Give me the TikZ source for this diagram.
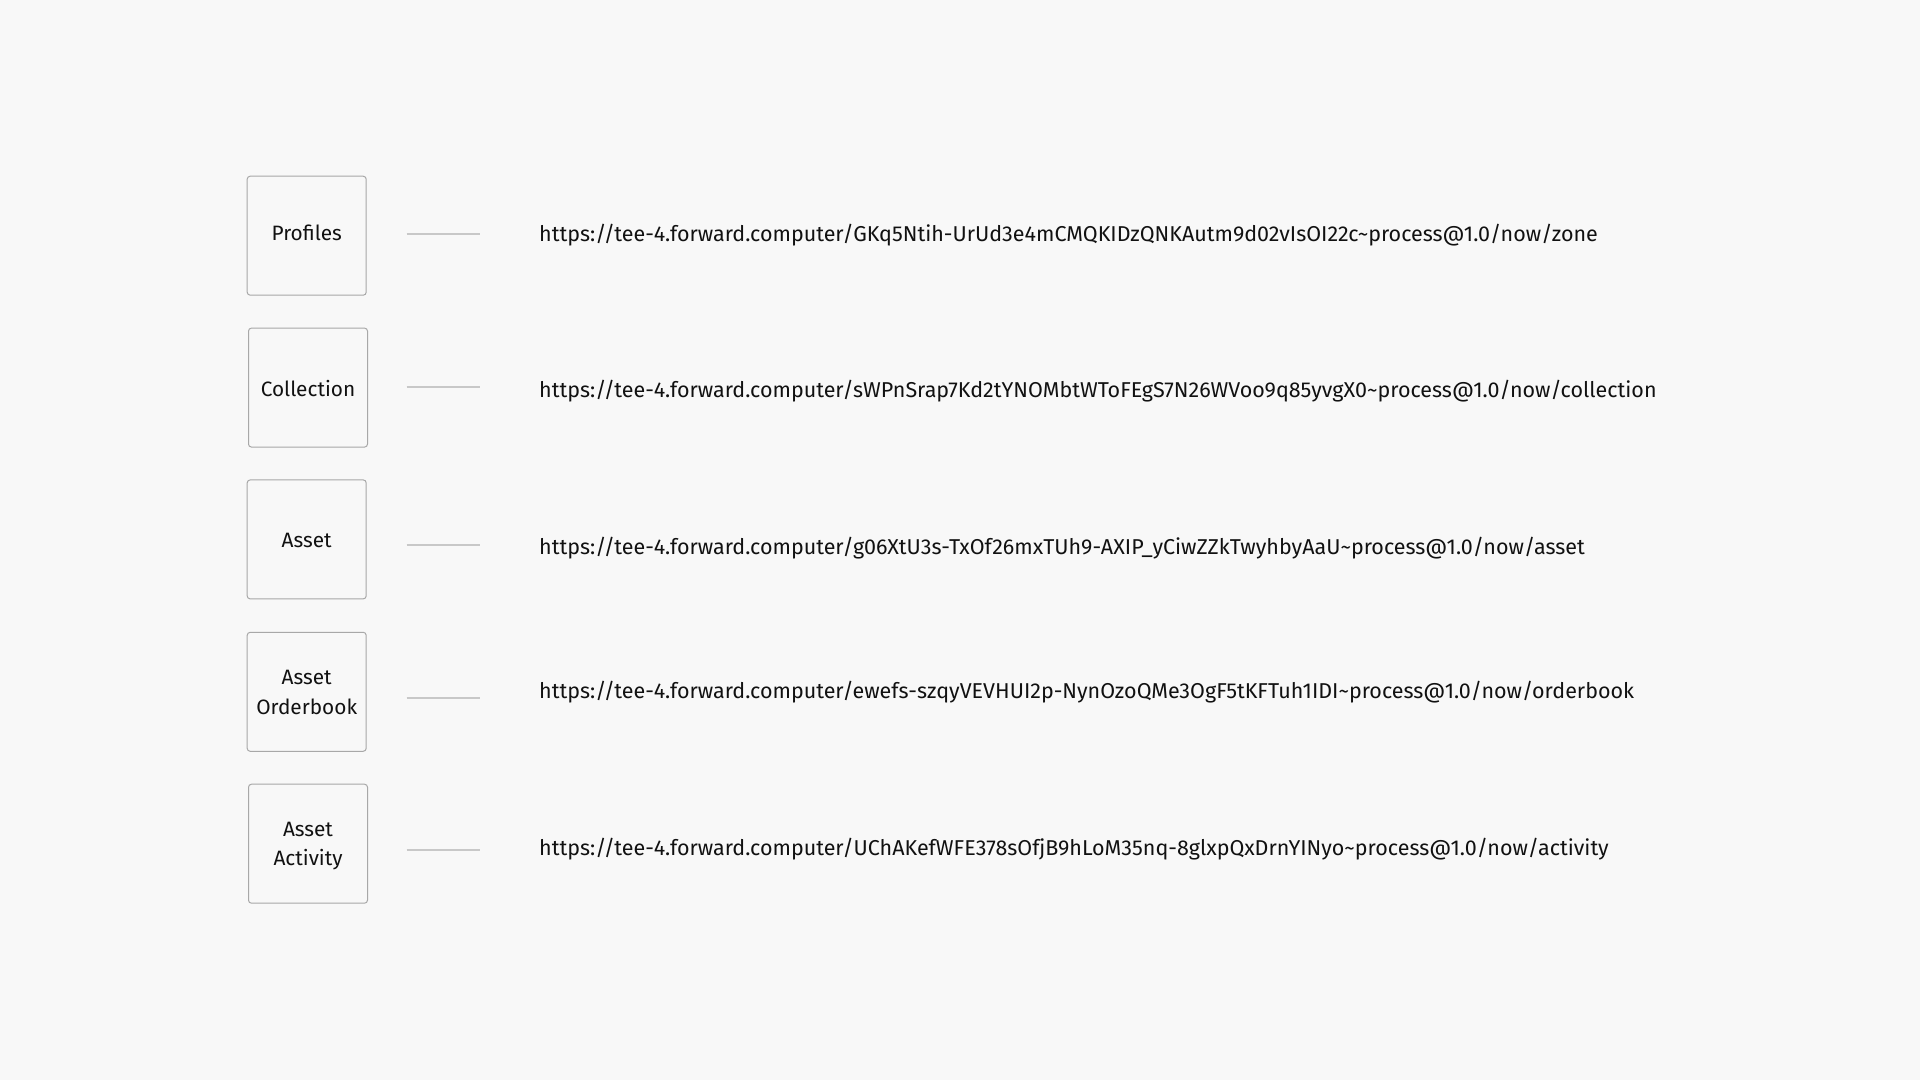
\documentclass[tikz,border=0pt]{standalone}
\usepackage{fontspec}
\setmainfont{Fira Sans}
\definecolor{bgc}{HTML}{F8F8F8}
\definecolor{boxc}{HTML}{A8A8A8}
\definecolor{linec}{HTML}{C8C8C8}
\definecolor{txtc}{HTML}{111111}
\begin{document}
\begin{tikzpicture}[x=0.5pt,y=-0.5pt,
  catbox/.style={draw=boxc, line width=0.5pt, rounded corners=1.5pt, fill=bgc,
    minimum width=59.5pt, minimum height=59.5pt, inner sep=0pt, align=center,
    text=txtc, font=\fontsize{10.4}{14.6}\selectfont},
  boxlabel/.style={inner sep=0pt, align=center, text=txtc, font=\fontsize{10.4}{14.6}\selectfont},
  urltext/.style={anchor=west, inner sep=0pt, text=txtc, font=\fontsize{10.75}{12}\selectfont},
  link/.style={draw=linec, line width=0.75pt}]
\fill[bgc] (0,0) rectangle (1920,1080);
\useasboundingbox (0,0) rectangle (1920,1080);

\node[catbox] (b1) at (306.7,235.7) {};
\node[catbox] (b2) at (308.0,387.6) {};
\node[catbox] (b3) at (306.7,539.4) {};
\node[catbox] (b4) at (306.7,691.8) {};
\node[catbox] (b5) at (308.0,843.7) {};
\node[boxlabel] (t1) at ([yshift=1.2pt]b1.center) {Profiles};
\node[boxlabel] (t2) at ([yshift=-0.5pt]b2.center) {Collection};
\node[boxlabel] (t3) at ([yshift=-0.5pt]b3.center) {Asset};
\node[boxlabel] (t4) at ([yshift=-0.3pt]b4.center) {Asset\\Orderbook};
\node[boxlabel] (t5) at ([yshift=-1.2pt]b5.center) {Asset\\Activity};

\node[urltext] (u1) at (538.8,234.7) {https://tee-4.forward.computer/GKq5Ntih-UrUd3e4mCMQKIDzQNKAutm9d02vIsOI22c\textasciitilde process@1.0/now/zone};
\node[urltext] (u2) at (538.8,391.4) {https://tee-4.forward.computer/sWPnSrap7Kd2tYNOMbtWToFEgS7N26WVoo9q85yvgX0\textasciitilde process@1.0/now/collection};
\node[urltext] (u3) at (538.8,548.0) {https://tee-4.forward.computer/g06XtU3s-TxOf26mxTUh9-AXIP\_yCiwZZkTwyhbyAaU\textasciitilde process@1.0/now/asset};
\node[urltext] (u4) at (538.8,692.6) {https://tee-4.forward.computer/ewefs-szqyVEVHUI2p-NynOzoQMe3OgF5tKFTuh1IDI\textasciitilde process@1.0/now/orderbook};
\node[urltext] (u5) at (538.8,849.4) {https://tee-4.forward.computer/UChAKefWFE378sOfjB9hLoM35nq-8glxpQxDrnYINyo\textasciitilde process@1.0/now/activity};

\coordinate (l1a) at (406.5,233.9); \coordinate (l1b) at (480,233.9);
\coordinate (l2a) at (406.5,387.0); \coordinate (l2b) at (480,387.0);
\coordinate (l3a) at (406.5,545.0); \coordinate (l3b) at (480,545.0);
\coordinate (l4a) at (406.5,698.0); \coordinate (l4b) at (480,698.0);
\coordinate (l5a) at (406.5,850.0); \coordinate (l5b) at (480,850.0);
\draw[link] (l1a) -- (l1b);
\draw[link] (l2a) -- (l2b);
\draw[link] (l3a) -- (l3b);
\draw[link] (l4a) -- (l4b);
\draw[link] (l5a) -- (l5b);
\end{tikzpicture}
\end{document}
